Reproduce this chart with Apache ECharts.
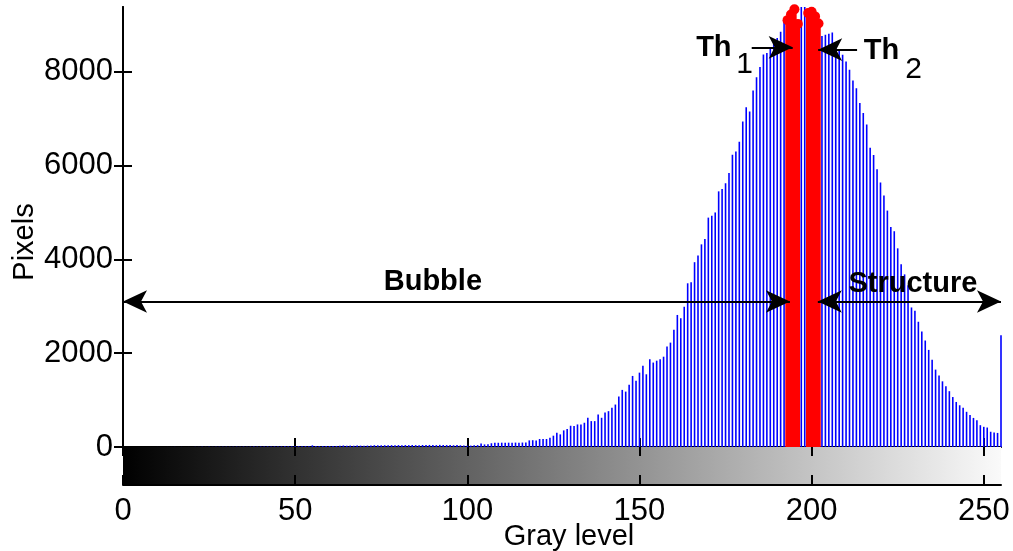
<!DOCTYPE html>
<html>
<head>
<meta charset="utf-8">
<script src="https://cdn.jsdelivr.net/npm/echarts@6/dist/echarts.min.js"></script>
<style>
  html, body { margin: 0; padding: 0; background: #fff; }
  #chart { width: 1013px; height: 551px; }
</style>
</head>
<body>
<div id="chart"></div>
<script>
// histogram counts, gray level 0..255
const pixelCounts = [
  0, 0, 0, 0, 0, 0, 0, 0, 0, 0, 1, 1, 0, 1, 1, 2, 1, 2, 2, 1, 2, 3, 2, 3, 3,
  4, 3, 4, 5, 4, 6, 5, 6, 7, 6, 8, 7, 8, 9, 8, 10, 9, 11, 10, 12, 11, 12, 14, 13, 15,
  14, 16, 15, 18, 17, 35, 20, 18, 20, 22, 21, 23, 22, 25, 32, 28, 30, 27, 31, 29, 28, 30, 33, 38, 36,
  36, 38, 35, 39, 37, 40, 38, 41, 39, 42, 40, 38, 43, 41, 44, 42, 40, 45, 43, 41, 40, 38, 42, 36, 32,
  28, 30, 35, 40, 72, 55, 60, 80, 92, 90, 92, 93, 92, 90, 94, 93, 95, 96, 141, 145, 141, 170,
  170, 170, 198, 241, 304, 269, 354, 382, 453, 446, 481, 481, 517, 623, 552, 552, 693, 623, 736, 764, 835, 905, 1075, 1217, 1181, 1329,
  1515, 1410, 1585, 1730, 1550, 1870, 1800, 1840, 1870, 1925, 2140, 2225, 2500, 2815, 2745, 2990,
  3490, 3510, 3940, 4080, 4320, 4435, 4890, 4930, 5000, 5450, 5500, 5625, 5840, 6230, 6300, 6510, 6940, 7245, 7150, 7600, 7885, 8100,
  8370, 8400, 8520, 8650, 8720, 8850, 9060, 9100, 9220, 9330, 9020, 9380, 9380, 9250, 9280, 9180, 9030,
  8760, 8790, 8810, 8835, 8570, 8465, 8360, 8220, 8040, 7815, 7650, 7335, 7120, 6875,
  6380, 6225, 5920, 5640, 5360, 5040, 4690, 4600, 4235, 3895, 3680, 3450, 2975, 2905, 2670, 2460, 2270, 2070, 1860, 1650,
  1525, 1400, 1295, 1190, 1065, 960, 890, 835, 750, 680, 620, 570, 465, 430, 415, 325, 310, 300, 2380
];
// levels drawn in red (between the two thresholds)
const thresholdLevels = [193, 194, 195, 196, 199, 200, 201, 202];

const xTicks = [0, 50, 100, 150, 200, 250];
const yTicks = [0, 2000, 4000, 6000, 8000];
const yMax = 9380;

// arrows: [start gray level, end gray level, pixels]
const bubbleArrow = [0, 193.7, 3102];
const structureArrow = [201.8, 255, 3102];
const th1Arrow = [182.6, 194.5, 8520];
const th2Arrow = [213.2, 201.9, 8470];

const labelTexts = ['Bubble', 'Structure', 'Th', '1', 'Th', '2'];
const labelPos = [[90.0, 3518], [229.4, 3475], [171.6, 8507], [180.5, 8145], [220.3, 8433], [229.6, 8038]];
const labelBold = [true, true, true, false, true, false];

const FONT = "'Liberation Sans', Arial, Helvetica, sans-serif";

function stem(color, width) {
  return function (params, api) {
    const p0 = api.coord([api.value(0), 0]);
    const p1 = api.coord([api.value(0), api.value(1)]);
    return {
      type: 'line',
      shape: { x1: p0[0], y1: p0[1], x2: p1[0], y2: p1[1] },
      style: { stroke: color, lineWidth: width }
    };
  };
}

const allData = pixelCounts.map((v, i) => [i, v]);
const redData = thresholdLevels.map(g => [g, pixelCounts[g]]);

const arrowPair = (a, startSym, endSym) => [
  { coord: [a[0], a[2]], symbol: startSym },
  { coord: [a[1], a[2]], symbol: endSym }
];

const tickStyle = { color: '#000', width: 2 };

const chart = echarts.init(document.getElementById('chart'));
chart.setOption({
  animation: false,
  backgroundColor: '#fff',
  textStyle: { fontFamily: FONT, color: '#000' },
  grid: [
    { left: 123, top: 7, width: 878, height: 440, containLabel: false, outerBoundsMode: 'none' },
    { left: 123, top: 447, width: 878, height: 38, containLabel: false, outerBoundsMode: 'none' }
  ],
  xAxis: [
    {
      gridIndex: 0, type: 'value', min: 0, max: 255, position: 'bottom',
      axisLine: { lineStyle: { color: '#0000cc', width: 1 } },
      axisTick: { inside: true, length: 9, customValues: xTicks, lineStyle: tickStyle },
      axisLabel: { show: false },
      splitLine: { show: false }
    },
    {
      gridIndex: 0, type: 'value', min: 0, max: 255, position: 'top',
      axisLine: { lineStyle: { color: '#000', width: 2 } },
      axisTick: { inside: true, length: 9, customValues: xTicks, lineStyle: tickStyle },
      axisLabel: { show: false },
      splitLine: { show: false }
    },
    {
      gridIndex: 1, type: 'value', min: 0, max: 255, position: 'bottom', z: 5,
      axisLine: { lineStyle: { color: '#000', width: 2 } },
      axisTick: { inside: true, length: 10, customValues: xTicks, lineStyle: tickStyle },
      axisLabel: { customValues: xTicks, color: '#000', fontSize: 31, fontFamily: FONT, margin: 11 },
      splitLine: { show: false },
      name: 'Gray level', nameLocation: 'middle', nameGap: 37, nameMoveOverlap: false,
      nameTextStyle: { color: '#000', fontSize: 29, fontFamily: FONT, padding: [0, 0, 0, 14] }
    },
    {
      gridIndex: 1, type: 'value', min: 0, max: 255, position: 'top', z: 5,
      axisLine: { show: false },
      axisTick: { inside: true, length: 9, customValues: xTicks, lineStyle: tickStyle },
      axisLabel: { show: false },
      splitLine: { show: false }
    }
  ],
  yAxis: [
    {
      gridIndex: 0, type: 'value', min: 0, max: yMax, position: 'left',
      axisLine: { show: true, lineStyle: { color: '#000', width: 2 } },
      axisTick: { show: true, inside: true, length: 9, customValues: yTicks, lineStyle: tickStyle },
      axisLabel: {
        customValues: yTicks, color: '#000', fontSize: 31, fontFamily: FONT, margin: 10,
        formatter: v => String(v)
      },
      splitLine: { show: false },
      name: 'Pixels', nameLocation: 'middle', nameGap: 84, nameMoveOverlap: false,
      nameTextStyle: { color: '#000', fontSize: 29, fontFamily: FONT, padding: [0, 30, 0, 0] }
    },
    {
      gridIndex: 0, type: 'value', min: 0, max: yMax, position: 'right',
      axisLine: { show: true, lineStyle: { color: '#000', width: 2 } },
      axisTick: { show: true, inside: true, length: 9, customValues: yTicks, lineStyle: tickStyle },
      axisLabel: { show: false },
      splitLine: { show: false }
    },
    {
      gridIndex: 1, type: 'value', min: 0, max: 1, show: false
    }
  ],
  series: [
    {
      // gray colorbar
      type: 'custom', xAxisIndex: 2, yAxisIndex: 2, silent: true, z: 1,
      data: [[0, 255]],
      renderItem: function (params, api) {
        const a = api.coord([api.value(0), 1]);
        const b = api.coord([api.value(1), 0]);
        return {
          type: 'rect',
          shape: { x: a[0], y: a[1], width: b[0] - a[0], height: b[1] - a[1] },
          style: {
            fill: new echarts.graphic.LinearGradient(0, 0, 1, 0, [
              { offset: 0, color: '#000' }, { offset: 1, color: '#fafafa' }
            ])
          }
        };
      }
    },
    {
      name: 'histogram', type: 'custom', xAxisIndex: 0, yAxisIndex: 0, silent: true, z: 2,
      data: allData, renderItem: stem('#0000ff', 1.6)
    },
    {
      name: 'threshold', type: 'custom', xAxisIndex: 0, yAxisIndex: 0, silent: true, z: 3,
      data: redData, renderItem: stem('#ff0000', 4.5)
    },
    {
      type: 'scatter', xAxisIndex: 0, yAxisIndex: 0, silent: true, z: 4,
      data: redData, symbol: 'circle', symbolSize: 10,
      itemStyle: { color: '#ff0000', opacity: 1 }
    },
    {
      // annotations
      type: 'scatter', xAxisIndex: 0, yAxisIndex: 0, silent: true, z: 6,
      symbolSize: 0,
      itemStyle: { opacity: 1 },
      data: labelTexts.map((t, i) => ({
        name: t, value: labelPos[i],
        label: {
          color: '#000', fontSize: labelBold[i] ? 29 : 30,
          fontWeight: labelBold[i] ? 'bold' : 'normal'
        }
      })),
      label: {
        show: true, position: 'inside', formatter: '{b}',
        color: '#000', fontSize: 29, fontFamily: FONT
      },
      markLine: {
        silent: true, animation: false,
        symbolSize: [17, 24],
        label: { show: false },
        lineStyle: { color: '#000', width: 2, type: 'solid', opacity: 1 },
        data: [
          arrowPair(bubbleArrow, 'arrow', 'arrow'),
          arrowPair(structureArrow, 'arrow', 'arrow'),
          arrowPair(th1Arrow, 'none', 'arrow'),
          arrowPair(th2Arrow, 'none', 'arrow')
        ]
      }
    }
  ]
});
</script>
</body>
</html>
